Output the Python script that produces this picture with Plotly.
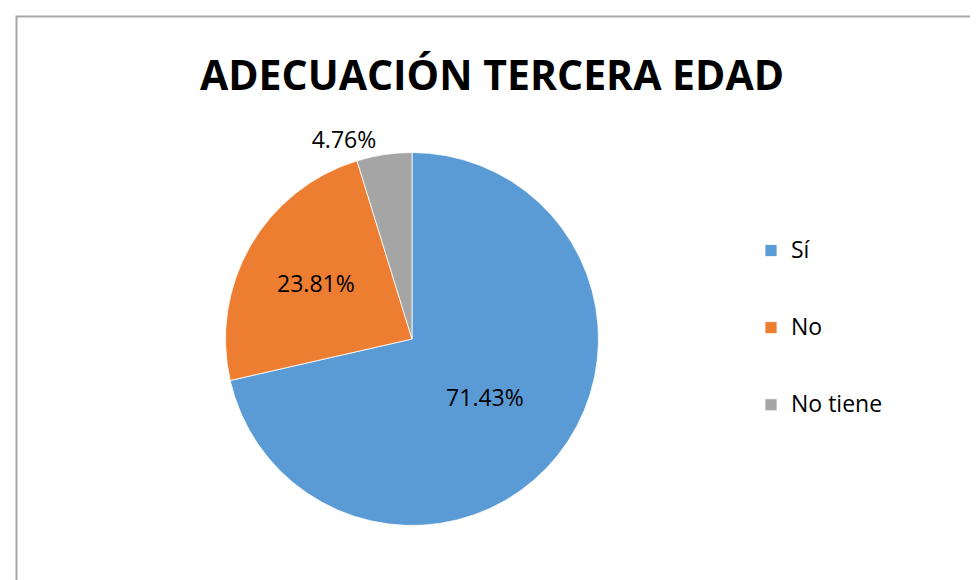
import plotly.graph_objects as go

title_text = "ADECUACIÓN TERCERA EDAD"
labels = ["Sí", "No", "No tiene"]
values = [15, 5, 1]
colors = ["#5B9BD5", "#ED7D31", "#A5A5A5"]
text_positions = ["inside", "inside", "outside"]

W, H = 978, 580
cx, cy, r = 404, 331, 186.5

# pad legend labels with blank lines to reproduce the tall legend spacing
legend_labels = ["&nbsp;<br><span style='font-size:23px'>" + l + "</span><br>&nbsp;" for l in labels]

fig = go.Figure(go.Pie(
    labels=legend_labels,
    values=values,
    sort=False,
    direction="clockwise",
    rotation=0,
    marker=dict(colors=colors, line=dict(color="white", width=0.8)),
    texttemplate="%{percent:.2%}",
    textposition=text_positions,
    insidetextorientation="horizontal",
    textfont=dict(family="Open Sans", size=23, color="#000000"),
    hovertemplate="%{customdata}: %{percent:.2%}<extra></extra>",
    customdata=labels,
    domain=dict(x=[(cx - r) / W, (cx + r) / W], y=[1 - (cy + r) / H, 1 - (cy - r) / H]),
))

fig.update_layout(
    width=W, height=H,
    margin=dict(l=0, r=0, t=0, b=0),
    paper_bgcolor="white",
    plot_bgcolor="white",
    title=dict(text="<b>" + title_text + "</b>", x=484 / W, xanchor="center",
               y=1 - 68 / H, yanchor="middle",
               font=dict(family="Open Sans", size=41, color="#000000")),
    showlegend=True,
    legend=dict(x=743 / W, xanchor="left", y=1 - 199 / H, yanchor="top",
                font=dict(family="Open Sans", size=19, color="#000000"),
                valign="middle", bgcolor="rgba(0,0,0,0)"),
    shapes=[dict(type="rect", xref="paper", yref="paper",
                 x0=8.5 / W, x1=969.5 / W, y0=-0.05, y1=1 - 8.5 / H,
                 line=dict(color="#A6A6A6", width=2), fillcolor="rgba(0,0,0,0)")],
)

fig.write_html("out.html")
